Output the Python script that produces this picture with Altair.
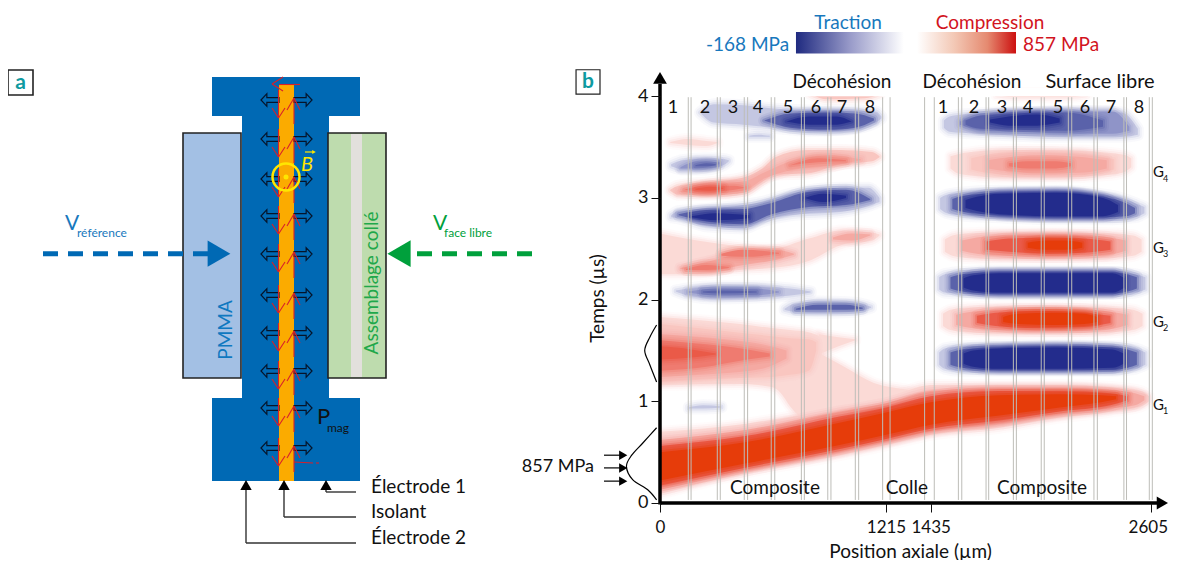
import altair as alt
import pandas as pd

FONT = "Lato"
BLUE = "#0069b4"
LBLUE = "#1878bd"
GREEN = "#00a03c"
TEAL = "#0e9aa0"
YEL = "#ffe600"
GRAY = "#bdbdb8"
P1, P2, P3, P4, P5, R0 = "#fbdad6", "#f9c6c0", "#f5a9a2", "#ef7b70", "#ea5a48", "#e63c0a"
B1, B2, B3, B4 = "#c4c7e2", "#8f94c8", "#5a62aa", "#232c8c"
RANK = {P1: 1, P2: 2, P3: 3, P4: 4, P5: 5, R0: 6, B1: 1, B2: 2, B3: 3, B4: 4}

# ---------- panel b: stress contours (colour, position um, lower us, upper us)
band_left_top = [
    (B1, [215,290,450,610,800,1000,1160,1190], [3.84,3.74,3.72,3.69,3.66,3.67,3.74,3.78], [3.84,3.92,3.91,3.88,3.86,3.86,3.85,3.80]),
    (B3, [560,700,900,1050,1150], [3.76,3.69,3.67,3.69,3.76], [3.76,3.83,3.84,3.83,3.78]),
    (B4, [680,800,950,1030], [3.75,3.72,3.72,3.75], [3.75,3.80,3.80,3.75]),
    (B1, [480,530,590], [3.60,3.60,3.60], [3.61,3.62,3.61]),
    (P2, [810,900,1100,1180], [4.02,3.97,3.98,4.02], [4.03,4.03,4.03,4.03]),
    (P1, [1785,1900,2150,2263], [4.01,3.99,3.99,4.01], [4.03,4.03,4.03,4.03]),
    (P1, [55,150,250,310], [3.54,3.52,3.51,3.54], [3.55,3.58,3.56,3.55]),
]
band_left_g4 = [
    (B1, [60,120,250,350,370], [3.31,3.28,3.28,3.33,3.36], [3.33,3.37,3.39,3.38,3.37]),
    (B2, [110,200,320], [3.29,3.29,3.33], [3.30,3.36,3.35]),
    (B3, [190,250,300], [3.31,3.31,3.32], [3.32,3.34,3.33]),
    (P2, [55,100,300,450,550,620,790,970,1140,1180], [3.07,3.03,3.03,3.05,3.16,3.23,3.24,3.33,3.36,3.40], [3.08,3.12,3.16,3.20,3.29,3.40,3.47,3.47,3.45,3.41]),
    (P3, [100,250,450,560,700,900,1080], [3.06,3.04,3.07,3.19,3.27,3.31,3.37], [3.06,3.13,3.16,3.25,3.36,3.42,3.38]),
    (P4, [130,250,400,460], [3.08,3.06,3.08,3.10], [3.08,3.12,3.12,3.10]),
    (P4, [700,850,1000], [3.32,3.35,3.36], [3.32,3.39,3.37]),
    (P5, [190,270,340], [3.08,3.07,3.09], [3.09,3.11,3.10]),
]
band_left_c = [
    (B1, [60,100,250,450,550,700,970,1120,1180], [2.81,2.80,2.72,2.70,2.77,2.83,2.86,2.92,2.96], [2.83,2.87,2.89,2.93,2.96,3.04,3.10,3.10,3.00]),
    (B3, [100,250,450,600,800,1000,1130], [2.83,2.77,2.74,2.84,2.91,2.93,2.98], [2.84,2.88,2.89,2.95,3.06,3.08,2.99]),
    (B4, [170,300,480], [2.81,2.78,2.80], [2.82,2.85,2.83]),
    (B4, [780,880,1000], [3.00,2.96,3.00], [3.00,3.04,3.02]),
]
band_left_d = [
    (P1, [0,200,400,600,800,980,1140,1180], [2.25,2.25,2.29,2.31,2.38,2.54,2.58,2.63], [2.65,2.58,2.53,2.50,2.60,2.68,2.66,2.64]),
    (P3, [110,250,450,620,720], [2.30,2.28,2.34,2.39,2.44], [2.31,2.37,2.46,2.49,2.45]),
    (P4, [330,450,640], [2.43,2.42,2.45], [2.45,2.49,2.46]),
    (P4, [140,250,370], [2.29,2.29,2.31], [2.30,2.34,2.32]),
    (P3, [930,1030,1130], [2.59,2.58,2.63], [2.61,2.65,2.64]),
]
band_left_e = [
    (B1, [85,150,300,500,700,810], [2.08,2.04,2.01,2.02,2.04,2.07], [2.09,2.11,2.13,2.13,2.11,2.08]),
    (B2, [150,300,500,640], [2.07,2.04,2.04,2.07], [2.08,2.11,2.11,2.08]),
    (B3, [230,330,520], [2.07,2.06,2.07], [2.08,2.09,2.08]),
    (B1, [670,720,850,1050,1135], [1.90,1.88,1.87,1.88,1.92], [1.91,1.96,1.98,1.97,1.93]),
    (B3, [730,850,1000,1090], [1.90,1.90,1.90,1.91], [1.91,1.95,1.95,1.92]),
]
band_left_f = [
    (P1, [0,430,600,650,700,800,860], [1.16,1.17,1.14,1.08,0.95,0.78,0.72], [1.83,1.76,1.72,1.71,1.70,1.68,1.64]),
    (P1, [860,1000,1150,1300,1440], [0.72,0.80,0.90,0.95,1.00], [1.47,1.33,1.18,1.12,1.08]),
    (P1, [855,960,1050], [1.46,1.54,1.60], [1.66,1.63,1.61]),
    (P2, [0,300,600,700,800,840], [1.19,1.22,1.24,1.26,1.30,1.50], [1.76,1.70,1.64,1.62,1.61,1.58]),
    (P3, [0,300,550,680], [1.24,1.27,1.32,1.42], [1.66,1.62,1.56,1.50]),
    (P4, [0,250,400,590], [1.30,1.34,1.39,1.44], [1.60,1.56,1.53,1.47]),
    (P5, [0,170,300], [1.41,1.43,1.46], [1.54,1.51,1.47]),
    (B1, [155,230,330], [0.93,0.93,0.94], [0.94,0.96,0.95]),
]
band_g1 = [
    (P1, [0,465,965,1215,1435,1800,2120,2390,2550,2595], [.09,.30,.47,.57,.67,.74,.84,.90,.95,1.00], [.70,.78,.94,1.03,1.16,1.16,1.16,1.14,1.10,1.05]),
    (P3, [0,465,965,1215,1435,1800,2120,2390,2520,2570], [.13,.32,.50,.60,.70,.78,.87,.93,.96,1.01], [.62,.72,.90,.98,1.10,1.13,1.13,1.11,1.08,1.05]),
    (P5, [0,465,965,1215,1435,1800,2120,2390,2480], [.17,.35,.53,.63,.73,.81,.90,.96,1.01], [.56,.66,.85,.94,1.05,1.10,1.10,1.08,1.05]),
    (R0, [0,465,965,1215,1435,1800,2120,2340,2420], [.22,.39,.57,.67,.77,.86,.94,.99,1.02], [.50,.60,.79,.89,.99,1.06,1.07,1.06,1.05]),
]
band_t1 = [
    (B1, [1480,1510,1590,1800,2100,2400,2520,2575], [1.36,1.32,1.30,1.30,1.30,1.30,1.32,1.36], [1.48,1.52,1.54,1.55,1.55,1.54,1.52,1.48]),
    (B3, [1540,1600,1800,2100,2400,2480,2530], [1.36,1.33,1.31,1.31,1.31,1.33,1.36], [1.48,1.51,1.53,1.54,1.53,1.51,1.48]),
    (B4, [1610,1660,1800,2100,2400,2460], [1.37,1.34,1.32,1.32,1.33,1.37], [1.47,1.50,1.52,1.53,1.51,1.47]),
]
band_g2 = [
    (P1, [1500,1540,1620,1800,2100,2400,2510,2560], [1.74,1.70,1.68,1.67,1.67,1.68,1.70,1.74], [1.86,1.90,1.92,1.93,1.93,1.92,1.90,1.86]),
    (P3, [1570,1650,1800,2100,2350,2480], [1.75,1.72,1.70,1.69,1.70,1.75], [1.85,1.88,1.90,1.91,1.89,1.85]),
    (P5, [1680,1780,2000,2250,2390], [1.77,1.74,1.72,1.73,1.77], [1.84,1.87,1.89,1.87,1.84]),
    (R0, [1820,1900,2100,2250,2320], [1.78,1.76,1.75,1.76,1.78], [1.83,1.86,1.87,1.86,1.83]),
]
band_t2 = [
    (B1, [1480,1510,1590,1800,2100,2400,2520,2575], [2.10,2.07,2.06,2.05,2.05,2.06,2.07,2.10], [2.22,2.25,2.27,2.28,2.28,2.27,2.25,2.22]),
    (B3, [1540,1600,1800,2100,2400,2480,2530], [2.11,2.08,2.06,2.06,2.06,2.08,2.11], [2.22,2.25,2.27,2.27,2.27,2.25,2.22]),
    (B4, [1610,1660,1800,2100,2400,2465], [2.12,2.09,2.07,2.07,2.07,2.12], [2.21,2.24,2.26,2.26,2.26,2.21]),
]
band_g3 = [
    (P1, [1510,1550,1620,1800,2100,2400,2510,2555], [2.47,2.43,2.41,2.40,2.40,2.41,2.43,2.47], [2.59,2.63,2.65,2.66,2.66,2.65,2.63,2.59]),
    (P3, [1600,1680,1800,2100,2350,2470], [2.48,2.45,2.43,2.42,2.43,2.48], [2.58,2.61,2.63,2.64,2.62,2.58]),
    (P5, [1730,1850,2050,2250,2390], [2.49,2.47,2.45,2.46,2.49], [2.57,2.60,2.61,2.60,2.57]),
    (R0, [1950,2050,2150,2240], [2.51,2.49,2.49,2.51], [2.56,2.58,2.58,2.56]),
]
band_t3 = [
    (B1, [1485,1520,1590,1800,2100,2400,2520,2570], [2.89,2.85,2.83,2.81,2.79,2.79,2.81,2.85], [3.00,3.03,3.05,3.07,3.07,3.02,2.95,2.91]),
    (B3, [1550,1610,1800,2100,2350,2470,2520], [2.89,2.86,2.83,2.81,2.81,2.82,2.85], [2.99,3.02,3.05,3.06,3.01,2.95,2.90]),
    (B4, [1620,1680,1800,2100,2350,2430], [2.90,2.87,2.84,2.82,2.82,2.86], [2.98,3.01,3.04,3.05,3.00,2.93]),
]
band_g4 = [
    (P1, [1540,1580,1650,1800,2100,2400,2470,2500], [3.29,3.24,3.22,3.20,3.20,3.23,3.26,3.30], [3.41,3.43,3.45,3.47,3.47,3.44,3.42,3.39]),
    (P2, [1650,1720,1900,2200,2410], [3.28,3.25,3.22,3.22,3.28], [3.39,3.42,3.45,3.44,3.38]),
    (P3, [1740,1850,2050,2250,2370], [3.29,3.26,3.24,3.25,3.29], [3.37,3.40,3.42,3.40,3.37]),
    (P4, [1850,1950,2100,2180], [3.31,3.29,3.29,3.31], [3.34,3.36,3.36,3.34]),
]
band_t4 = [
    (B1, [1505,1535,1600,1800,2100,2300,2450,2535], [3.69,3.65,3.64,3.62,3.60,3.60,3.60,3.62], [3.76,3.80,3.82,3.84,3.85,3.85,3.84,3.68]),
    (B2, [1590,1700,1900,2250,2400,2490], [3.72,3.67,3.65,3.63,3.63,3.66], [3.75,3.81,3.84,3.85,3.85,3.70]),
    (B3, [1620,1700,1900,2150,2350], [3.72,3.68,3.67,3.66,3.70], [3.76,3.81,3.83,3.84,3.76]),
    (B4, [1750,1850,2000,2120], [3.74,3.71,3.71,3.74], [3.77,3.80,3.82,3.78]),
]
ALL_BANDS = (band_left_f + band_left_top + band_left_g4 + band_left_c + band_left_d + band_left_e
             + band_g1 + band_t1 + band_g2 + band_t2 + band_g3 + band_t3 + band_g4 + band_t4)

gauge_lines = [152,167,308,324,453,471,598,617,760,776,902,919,1050,1068,1197,1235,1405,1454,
               1582,1600,1729,1743,1874,1890,2022,2038,2166,2184,2302,2320,2461,2475,2596,2612]
pulse_low = ([-18,-65,-145,-178,-150,-91,-18], [.03,.13,.23,.36,.47,.59,.74])
pulse_high = ([-18,-54,-81,-54,-18], [1.75,1.63,1.50,1.36,1.19])

x_ticks = [0, 1215, 1435, 2605]
y_ticks = [0, 1, 2, 3, 4]

# x, y, text, size, colour, align, angle, weight
texts_b = [
    (1011,4.72,"Traction",19,LBLUE,"center",0,"normal"),
    (1750,4.72,"Compression",19,"#d2141e","center",0,"normal"),
    (694,4.50,"-168 MPa",19,LBLUE,"right",0,"normal"),
    (1925,4.50,"857 MPa",19,"#d2141e","left",0,"normal"),
    (978,4.14,"Décohésion",19,"#111111","center",0,"normal"),
    (1654,4.14,"Décohésion",19,"#111111","center",0,"normal"),
    (2334,4.14,"Surface libre",20,"#111111","center",0,"normal"),
    (618,.15,"Composite",19,"#111111","center",0,"normal"),
    (1318,.15,"Colle",19,"#111111","center",0,"normal"),
    (2026,.15,"Composite",19,"#111111","center",0,"normal"),
    (-350,.354,"857 MPa",18,"#111111","right",0,"normal"),
    (-382,4.14,"b",21,TEAL,"center",0,"bold"),
    (2695,-.246,"2605",17,"#111111","right",0,"normal"),
]
for xv, lab in zip([70,242,392,527,688,839,978,1129,1500,1665,1814,1952,2111,2254,2392,2541],
                   list("12345678")*2):
    texts_b.append((xv,3.88,lab,18,"#111111","center",0,"normal"))
for tv, sub in zip([3.25,2.51,1.78,.96], "4321"):
    texts_b.append((2616,tv,"G",15,"#111111","left",0,"normal"))
    texts_b.append((2668,tv-.06,sub,9,"#111111","left",0,"normal"))

# ---------- panel a: schematic, in the figure's own units
row_y = [100,139,179,216,254,295,333,371,408,448]
blocks = [
    (212,360,77,116,BLUE),
    (242,329,110,404,BLUE),
    (212,360,398,481,BLUE),
    (279,294,85,481,"#fbab00"),
    (183,241,133,378,"#a3c0e4"),
    (328,386,133,378,"#bedcae"),
    (351,362,134,377,"#e2e0dc"),
]
outlines = [(183,241,133,378),(328,386,133,378),(8,33,70,95)]
leader_lines = [(246,246,488,543),(246,356,543,543),(284,284,488,517),(284,356,517,517),(326,326,488,492),(326,356,492,492)]
leader_tips = [246,284,326]
texts_a = [
    (226,330,"PMMA",19,"#0f78c0","center",-90,"normal"),
    (372,283,"Assemblage collé",19,"#1fa84a","center",-90,"normal"),
    (65,224,"V",21,LBLUE,"left",0,"normal"),
    (77,233,"référence",12,LBLUE,"left",0,"normal"),
    (433,224,"V",21,GREEN,"left",0,"normal"),
    (444,233,"face libre",12,GREEN,"left",0,"normal"),
    (317,417,"P",22,"#111111","left",0,"normal"),
    (327,428,"mag",12,"#111111","left",0,"normal"),
    (371,487,"Électrode 1",19,"#111111","left",0,"normal"),
    (371,512,"Isolant",19,"#111111","left",0,"normal"),
    (371,538,"Électrode 2",19,"#111111","left",0,"normal"),
    (20.5,83,"a",21,TEAL,"center",0,"bold"),
]
red_segments = [(279,300,84.5,84.5),(272,283,84,77),(272,283,84,91),(294,313,462,463),(316,319,463,463)]
for ry in row_y:
    red_segments += [
        (278.5,278.5,ry-10,ry+18),(278.5,272,ry+18,ry+8),(278.5,285,ry+18,ry+8),
        (294,294,ry-2,ry+24),(294,287,ry-2,ry+10),(294,300,ry-2,ry+10),
    ]

# ---------- scales
W, H = 1161, 552
xa = alt.Scale(domain=[8,570], range=[0,562], nice=False, zero=False, padding=0)
ya = alt.Scale(domain=[560,8], nice=False, zero=False, padding=0)
xb = alt.Scale(domain=[-477,0,1215,1435,2605,2700], range=[562,652,878,922.7,1143,1161], nice=False, zero=False, padding=0)
yb = alt.Scale(domain=[-0.5605,4.867], nice=False, zero=False, padding=0)

axis_x = alt.Axis(values=x_ticks, title="Position axiale (µm)", offset=-57, domain=False, grid=False, tickSize=9,
                  tickColor="#111111", labelFont=FONT, labelFontSize=17, labelColor="#111111", labelPadding=7,
                  labelOverlap=False, labelFlush=False, titleFont=FONT, titleFontSize=19, titleFontWeight="normal",
                  titleColor="#111111", titleX=902, titleY=48, titleBaseline="middle", zindex=1, format="d",
                  labelExpr="datum.value == 2605 ? '' : datum.label")
axis_y = alt.Axis(values=y_ticks, title="Temps (µs)", offset=-652, domain=False, grid=False, tickSize=9,
                  tickColor="#111111", labelFont=FONT, labelFontSize=18, labelColor="#111111", labelPadding=3,
                  labelFlush=False, titleFont=FONT, titleFontSize=19, titleFontWeight="normal", titleColor="#111111",
                  titleX=-63, titleY=290, titleBaseline="middle", zindex=1, format="d")


def X(c, s):
    return alt.X(c, type="quantitative", scale=s, axis=axis_x if s is xb else None)


def Y(c, s):
    return alt.Y(c, type="quantitative", scale=s, axis=axis_y if s is yb else None)


def text_layers(rows, sx, sy):
    df = pd.DataFrame(rows, columns=["x","y","t","size","col","align","angle","weight"])
    out = []
    for (size,col,align,angle,weight), g in df.groupby(["size","col","align","angle","weight"]):
        out.append(alt.Chart(g).mark_text(font=FONT, fontSize=int(size), color=col, align=align,
                                          angle=(360+int(angle))%360, fontWeight=weight, baseline="middle")
                   .encode(x=X("x",sx), y=Y("y",sy), text="t:N"))
    return out


def segs(rows, sx, sy, color, width, dash=None):
    df = pd.DataFrame(rows, columns=["x","x2","y","y2"])
    kw = dict(color=color, strokeWidth=width)
    if dash:
        kw["strokeDash"] = dash
    return alt.Chart(df).mark_rule(**kw).encode(x=X("x",sx), x2="x2:Q", y=Y("y",sy), y2="y2:Q")


def pts(xs, ys, sx, sy, **kw):
    return alt.Chart(pd.DataFrame({"x":xs,"y":ys})).mark_point(filled=kw.pop("filled",True), opacity=1, **kw).encode(
        x=X("x",sx), y=Y("y",sy))


# ---------- panel a
ARROW_L = "M-1,0L-.35,-.7L-.35,-.27L1,-.27L1,.27L-.35,.27L-.35,.7Z"
ARROW_R = "M1,0L.35,-.7L.35,-.27L-1,-.27L-1,.27L.35,.27L.35,.7Z"
df_blocks = pd.DataFrame(blocks, columns=["x","x2","y","y2","fill"])
df_out = pd.DataFrame(outlines, columns=["x","x2","y","y2"])
a_layers = [
    alt.Chart(df_blocks).mark_rect().encode(x=X("x",xa), x2="x2:Q", y=Y("y",ya), y2="y2:Q",
                                            fill=alt.Fill("fill:N", scale=None)),
    alt.Chart(df_out).mark_rect(fillOpacity=0, stroke="#222222", strokeWidth=1.6).encode(
        x=X("x",xa), x2="x2:Q", y=Y("y",ya), y2="y2:Q"),
    pts([270]*len(row_y), row_y, xa, ya, shape=ARROW_L, size=324, filled=False, stroke="#05142a", strokeWidth=1.2),
    pts([303]*len(row_y), row_y, xa, ya, shape=ARROW_R, size=324, filled=False, stroke="#05142a", strokeWidth=1.2),
    segs(red_segments, xa, ya, "#d8202a", 1.1),
    pts([286], [177], xa, ya, shape="circle", size=729, filled=False, stroke=YEL, strokeWidth=2.5),
    pts([286], [177], xa, ya, shape="circle", size=25, color=YEL),
    segs([(305,313,152,152)], xa, ya, YEL, 1.2),
    pts([314], [152], xa, ya, shape="triangle-right", size=18, color=YEL),
    segs([(43,210,253.7,253.7)], xa, ya, BLUE, 5, [15,10]),
    pts([219], [253.7], xa, ya, shape="triangle-right", size=690, color=BLUE),
    segs([(532,406,253.7,253.7)], xa, ya, GREEN, 5, [15,10]),
    pts([399], [253.7], xa, ya, shape="triangle-left", size=720, color=GREEN),
    segs(leader_lines, xa, ya, "#333333", 1.4),
    pts(leader_tips, [485]*3, xa, ya, shape="triangle-up", size=130, color="#000000"),
]
a_layers += text_layers(texts_a, xa, ya)
a_layers.append(alt.Chart(pd.DataFrame({"x":[307],"y":[165],"t":["B"]})).mark_text(
    font=FONT, fontSize=20, fontStyle="italic", color=YEL, baseline="middle").encode(
    x=X("x",xa), y=Y("y",ya), text="t:N"))
panel_a = alt.layer(*a_layers)

# ---------- panel b
rows = []
for i, (c, xs, lo, hi) in enumerate(ALL_BANDS):
    for xv, l, h in zip(xs, lo, hi):
        rows.append({"id": i, "rank": RANK[c], "col": c, "x": xv, "lo": l, "hi": h})
df_c = pd.DataFrame(rows)

b_layers = []
FEATHER = [(12,.10),(8,.18),(4,.35)]
for rk in sorted(df_c["rank"].unique()):
    d = df_c[df_c["rank"] == rk]
    enc = dict(x=X("x",xb), y=Y("lo",yb), y2="hi:Q", detail="id:N")
    for w, op in FEATHER:
        b_layers.append(alt.Chart(d).mark_area(interpolate="monotone", fillOpacity=0, strokeOpacity=op, strokeWidth=w,
                                               strokeJoin="round").encode(
            stroke=alt.Stroke("col:N", scale=None), **enc))
    b_layers.append(alt.Chart(d).mark_area(interpolate="monotone", opacity=1).encode(
        fill=alt.Fill("col:N", scale=None), **enc))

mask = pd.DataFrame([(-50,0,0,4.05),(0,2690,4.0,4.08),(-50,2690,-0.10,0)], columns=["x","x2","y","y2"])
b_layers.append(alt.Chart(mask).mark_rect(color="white").encode(x=X("x",xb), x2="x2:Q", y=Y("y",yb), y2="y2:Q"))
b_layers.append(segs([(v,v,0.03,3.99) for v in gauge_lines], xb, yb, GRAY, 1))
b_layers += [
    segs([(0,0,-0.015,4.12)], xb, yb, "#000000", 3.5),
    segs([(0,2650,0,0)], xb, yb, "#000000", 3.5),
    pts([0], [4.18], xb, yb, shape="triangle-up", size=190, color="#000000"),
    pts([2665], [0], xb, yb, shape="triangle-right", size=170, color="#000000"),
]
for name, (xs, ts) in {"low": pulse_low, "high": pulse_high}.items():
    b_layers.append(alt.Chart(pd.DataFrame({"x":xs,"y":ts,"o":range(len(xs))})).mark_line(
        interpolate="cardinal", color="#000000", strokeWidth=1.2).encode(x=X("x",xb), y=Y("y",yb), order="o:Q"))
arrow_t = [.47,.345,.215]
b_layers.append(segs([(-297,-185,t,t) for t in arrow_t], xb, yb, "#000000", 1.2))
b_layers.append(pts([-195]*3, arrow_t, xb, yb, shape="triangle-right", size=90, color="#000000"))

bar = pd.DataFrame({"x":[731],"x2":[1888],"y":[4.63],"y2":[4.42]})
grad = alt.LinearGradient(gradient="linear", x1=0, x2=1, y1=0, y2=0, stops=[
    alt.GradientStop(offset=0, color="#1f2a80"),
    alt.GradientStop(offset=.25, color="#9a9cca"),
    alt.GradientStop(offset=.49, color="#ffffff"),
    alt.GradientStop(offset=.55, color="#ffffff"),
    alt.GradientStop(offset=.72, color="#f3c8b5"),
    alt.GradientStop(offset=.87, color="#e58a70"),
    alt.GradientStop(offset=1, color="#cc1010"),
])
b_layers.append(alt.Chart(bar).mark_rect(fill=grad).encode(x=X("x",xb), x2="x2:Q", y=Y("y",yb), y2="y2:Q"))
box = pd.DataFrame({"x":[-445],"x2":[-318],"y":[4.26],"y2":[4.02]})
b_layers.append(alt.Chart(box).mark_rect(fillOpacity=0, stroke="#222222", strokeWidth=1.2).encode(
    x=X("x",xb), x2="x2:Q", y=Y("y",yb), y2="y2:Q"))
b_layers += text_layers(texts_b, xb, yb)
panel_b = alt.layer(*b_layers)

chart = (alt.layer(panel_a, panel_b)
         .resolve_scale(x="independent", y="independent")
         .properties(width=W, height=H, padding=0, autosize=alt.AutoSizeParams(type="none"))
         .configure_view(stroke=None))
chart.save("out.html", embed_options={"renderer": "svg", "actions": False})
